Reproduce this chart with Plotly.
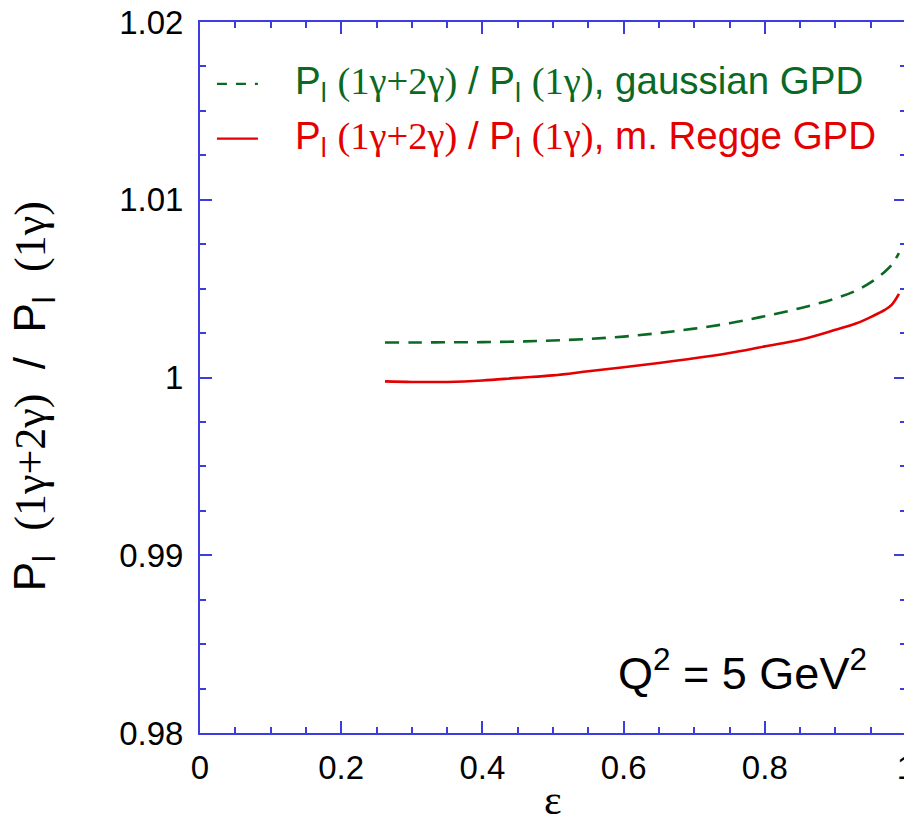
import plotly.graph_objects as go

eps = [0.262, 0.30, 0.35, 0.40, 0.45, 0.50, 0.55, 0.60, 0.65, 0.70,
       0.75, 0.80, 0.85, 0.90, 0.93, 0.95, 0.97, 0.98, 0.99]
ratio_gauss = [1.00197, 1.00197, 1.00198, 1.00199, 1.00202, 1.00208, 1.00217,
               1.00230, 1.00250, 1.00275, 1.00305, 1.00345, 1.00390, 1.00445,
               1.00490, 1.00535, 1.00595, 1.00635, 1.00700]
ratio_regge = [0.99978, 0.99975, 0.99975, 0.99983, 0.99998, 1.00012, 1.00035,
               1.00058, 1.00082, 1.00108, 1.00138, 1.00175, 1.00212, 1.00268,
               1.00305, 1.00340, 1.00380, 1.00410, 1.00470]
x_ticks = [0, 0.2, 0.4, 0.6, 0.8, 1]
x_ticklabels = ["0", "0.2", "0.4", "0.6", "0.8", "1"]
y_ticks = [0.98, 0.99, 1.0, 1.01, 1.02]
y_ticklabels = ["0.98", "0.99", "1", "1.01", "1.02"]
series_names = ["gaussian GPD", "m. Regge GPD"]

GREEN = "rgb(10,105,35)"
RED = "rgb(228,0,0)"
BLUE = "rgb(60,60,225)"
SANS = "Liberation Sans"
SERIF = "Liberation Serif"
GREEN_DASH = "14px,9px"


def ratio_text(gap=" "):
    return (f'P<sub>l</sub>{gap}<span style="font-family:{SERIF}">(1γ+2γ)</span>{gap}/{gap}'
            f'P<sub>l</sub>{gap}<span style="font-family:{SERIF}">(1γ)</span>')


fig = go.Figure()
fig.add_trace(go.Scatter(x=eps, y=ratio_gauss, mode="lines",
                         line=dict(color=GREEN, width=2.6, dash=GREEN_DASH, shape="spline"),
                         name=series_names[0], showlegend=False))
fig.add_trace(go.Scatter(x=eps, y=ratio_regge, mode="lines",
                         line=dict(color=RED, width=2.6, shape="spline"),
                         name=series_names[1], showlegend=False))

axis_common = dict(showline=True, linecolor=BLUE, linewidth=2, mirror="ticks",
                   ticks="inside", tickcolor=BLUE, tickwidth=1.5, ticklen=12,
                   showgrid=False, zeroline=False, automargin=False,
                   ticklabeloverflow="allow",
                   tickfont=dict(family=SANS, size=33, color="black"))

fig.update_xaxes(range=[0, 1], tickvals=x_ticks, ticktext=x_ticklabels,
                 minor=dict(dtick=0.05, ticks="inside", ticklen=6, tickcolor=BLUE, tickwidth=1.5),
                 ticklabelstandoff=4,
                 **axis_common)
fig.update_yaxes(range=[0.98, 1.02], tickvals=y_ticks, ticktext=y_ticklabels,
                 minor=dict(dtick=0.0025, ticks="inside", ticklen=6, tickcolor=BLUE, tickwidth=1.5),
                 ticklabelstandoff=8,
                 **axis_common)

# axis titles
fig.add_annotation(xref="paper", yref="paper", x=-0.236, y=0.474,
                   xanchor="center", yanchor="middle", textangle=-90,
                   text=ratio_text("&nbsp;&nbsp;"), showarrow=False,
                   font=dict(family=SANS, size=44, color="black"))
fig.add_annotation(xref="paper", yref="paper", x=0.5, y=-0.094,
                   xanchor="center", yanchor="middle", text="ε", showarrow=False,
                   font=dict(family=SERIF, size=42, color="black"))

# Q^2 label
fig.add_annotation(xref="paper", yref="paper", x=0.947, y=0.088,
                   xanchor="right", yanchor="middle",
                   text="Q<sup>2</sup> = 5 GeV<sup>2</sup>", showarrow=False,
                   font=dict(family=SANS, size=45, color="black"))

# legend (manual)
legend_rows = [(0.913, GREEN, "10px,9px", series_names[0]),
               (0.836, RED, "solid", series_names[1])]
for ypos, col, dash, nm in legend_rows:
    fig.add_shape(type="line", xref="paper", yref="paper",
                  x0=0.024, x1=0.082, y0=ypos, y1=ypos,
                  line=dict(color=col, width=2.4, dash=dash))
    fig.add_annotation(xref="paper", yref="paper", x=0.132, y=ypos,
                       xanchor="left", yanchor="middle",
                       text=f'{ratio_text()}, {nm}', showarrow=False,
                       font=dict(family=SANS, size=38.5, color=col))

# the page adds an 8px body margin; margins compensate so the plot box sits at 200..906 x 22..733
fig.update_layout(
    width=912, height=819,
    margin=dict(l=192, r=14, t=14, b=94),
    paper_bgcolor="white", plot_bgcolor="white",
    showlegend=False,
)

fig.write_html("out.html")
